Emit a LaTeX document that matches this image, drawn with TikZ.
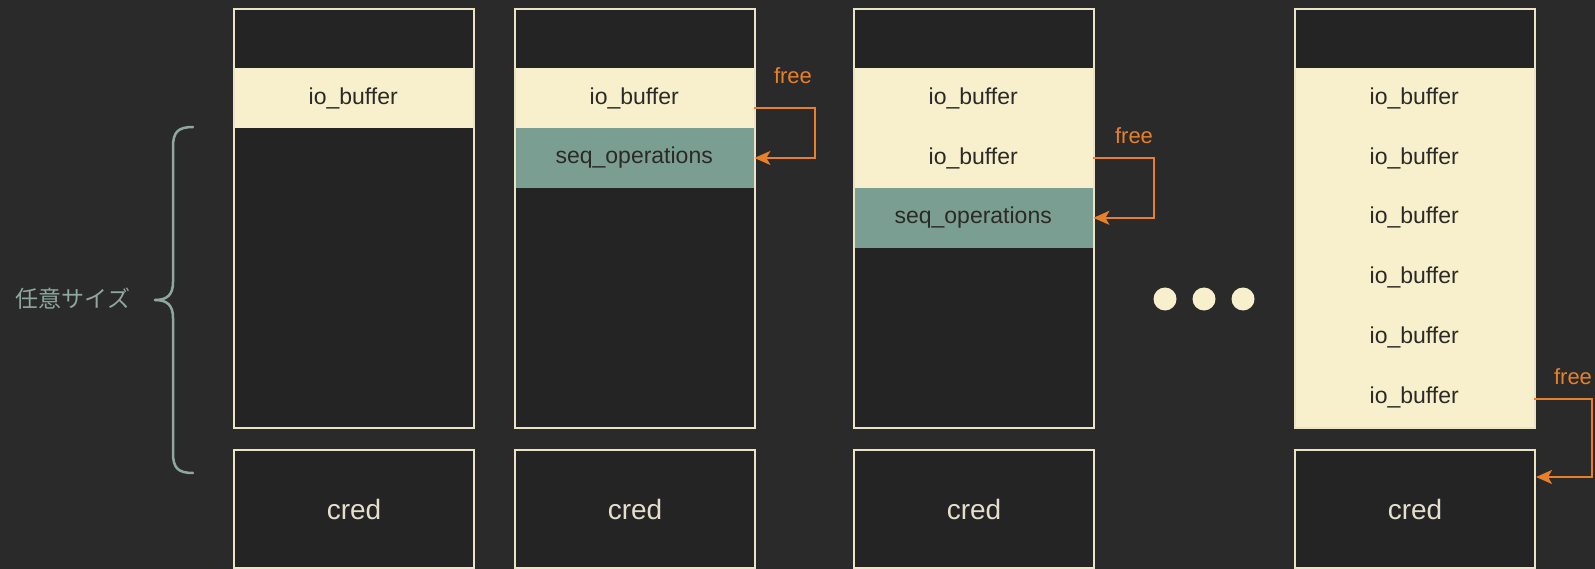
\documentclass[tikz,border=0pt]{standalone}
\usepackage{fontspec}
\setmainfont{Liberation Sans}
\newfontfamily\jpfont{Noto Sans CJK JP}
\usetikzlibrary{arrows.meta}
\definecolor{bg}{HTML}{2A2A2A}
\definecolor{inner}{HTML}{242424}
\definecolor{cream}{HTML}{F8F0CC}
\definecolor{edge}{HTML}{EAE3C6}
\definecolor{seqc}{HTML}{7A9E92}
\definecolor{orng}{HTML}{E8802A}
\definecolor{brc}{HTML}{8FA89F}
\definecolor{darktxt}{HTML}{2B2A26}
\definecolor{credtxt}{HTML}{E4DECB}
\tikzset{
  frame/.style={draw=edge, line width=2pt, fill=inner, minimum width=240pt, minimum height=419pt, inner sep=0pt, anchor=north west},
  iorow/.style={fill=cream, minimum width=240pt, minimum height=59.85pt, inner sep=0pt, anchor=north west, text=darktxt, font=\fontsize{23}{27}\selectfont},
  seqrow/.style={iorow, fill=seqc, text=darktxt},
  border/.style={draw=edge, line width=2pt, fill=none, minimum width=240pt, minimum height=419pt, inner sep=0pt, anchor=north west},
  credbox/.style={draw=edge, line width=2pt, fill=inner, minimum width=240pt, minimum height=118pt, inner sep=0pt, anchor=north west, text=credtxt, font=\fontsize{28}{32}\selectfont},
  freearrow/.style={draw=orng, line width=2pt, -{Stealth[length=16pt,width=14pt,inset=4pt]}},
  freelbl/.style={text=orng, font=\fontsize{22}{26}\selectfont, inner sep=0pt},
  dotc/.style={circle, fill=cream, minimum size=23pt, inner sep=0pt},
  brace/.style={draw=brc, line width=2.5pt, line cap=round},
}
\begin{document}
\begin{tikzpicture}[x=1pt,y=-1pt]
\fill[bg] (0,0) rectangle (1595,569);
\useasboundingbox (0,0) rectangle (1595,569);

% column 1
\node[frame] (f1) at (233,8) {};
\node[iorow] (a1) at (233,68) {io\_buffer};
\node[border] (g1) at (233,8) {};
\node[credbox] (c1) at (233,449) {cred};

% column 2
\node[frame] (f2) at (514,8) {};
\node[iorow] (a2) at (514,68) {io\_buffer};
\node[seqrow] (s2) at (514,127.85) {seq\_operations};
\node[border] (g2) at (514,8) {};
\node[credbox] (c2) at (514,449) {cred};

% column 3
\node[frame] (f3) at (853,8) {};
\node[iorow] (a3) at (853,68) {io\_buffer};
\node[iorow] (b3) at (853,127.85) {io\_buffer};
\node[seqrow] (s3) at (853,187.7) {seq\_operations};
\node[border] (g3) at (853,8) {};
\node[credbox] (c3) at (853,449) {cred};

% column 4
\node[frame] (f4) at (1294,8) {};
\node[iorow] (a4) at (1294,68) {io\_buffer};
\node[iorow] (b4) at (1294,127.85) {io\_buffer};
\node[iorow] (d4) at (1294,187.7) {io\_buffer};
\node[iorow] (e4) at (1294,247.55) {io\_buffer};
\node[iorow] (h4) at (1294,307.4) {io\_buffer};
\node[iorow] (k4) at (1294,367.25) {io\_buffer};
\node[border, draw=edge] (g4) at (1294,8) {};
\node[credbox] (c4) at (1294,449) {cred};

% dots
\node[dotc] (p1) at (1165,299) {};
\node[dotc] (p2) at (1204,299) {};
\node[dotc] (p3) at (1243,299) {};

% free arrows
\draw[freearrow] ([yshift=-10pt]a2.east) -- ++(61,0) |- (s2.east);
\node[freelbl] (l2) at (793,76) {free};
\draw[freearrow] (b3.east) -- ++(61,0) |- (s3.east);
\node[freelbl] (l3) at (1134,136) {free};
\draw[freearrow] ([yshift=-2pt]k4.east) -- ++(58,0) |- ([yshift=32pt]c4.east);
\node[freelbl] (l4) at (1573,377) {free};

% brace and label
\draw[brace] (193,127) .. controls (178,127) and (173,132) .. (173,147) -- (173,282) .. controls (173,294) and (168,300) .. (155,300);
\draw[brace] (155,300) .. controls (168,300) and (173,306) .. (173,318) -- (173,453) .. controls (173,468) and (178,473) .. (193,473);
\node[text=brc, font=\jpfont\fontsize{23}{27}\selectfont, inner sep=0pt] (lbl) at (73,299) {任意サイズ};
\end{tikzpicture}
\end{document}
